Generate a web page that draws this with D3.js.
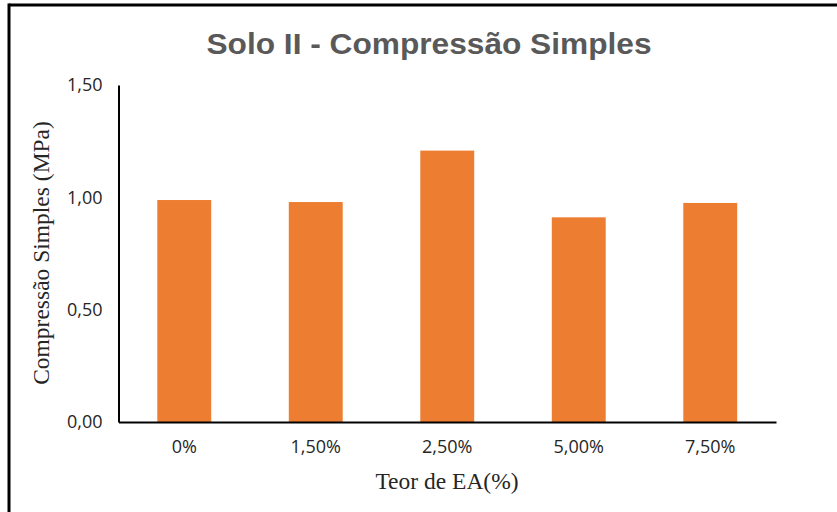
<!DOCTYPE html>
<html>
<head>
<meta charset="utf-8">
<script src="https://cdn.jsdelivr.net/npm/d3@7"></script>
<style>
  html, body { margin: 0; padding: 0; background: #fff; }
  svg { display: block; }
</style>
</head>
<body>
<svg id="chart" width="837" height="512"></svg>
<script>
// Unconfined compression strength by EA content
const categories = ["0%", "1,50%", "2,50%", "5,00%", "7,50%"];
const values = [0.988, 0.979, 1.208, 0.911, 0.975];
const yTicks = [0, 0.5, 1.0, 1.5];

const W = 837, H = 512;
const margin = { left: 118.5, right: 61, top: 85, bottom: 90 };
const svg = d3.select("#chart");

// frame edges (top and left)
svg.append("line").attr("x1", 9).attr("x2", W).attr("y1", 5).attr("y2", 5)
  .attr("stroke", "#000").attr("stroke-width", 3);
svg.append("line").attr("x1", 9).attr("x2", 9).attr("y1", 3.5).attr("y2", H)
  .attr("stroke", "#000").attr("stroke-width", 3);

const x = d3.scaleBand()
  .domain(categories)
  .range([margin.left, W - margin.right])
  .paddingInner(0.59)
  .paddingOuter(0.295);

const y = d3.scaleLinear()
  .domain([0, 1.5])
  .range([H - margin.bottom, margin.top]);

const fmt = d => d.toFixed(2).replace(".", ",");

// bars
svg.append("g").selectAll("rect")
  .data(values)
  .join("rect")
  .attr("x", (d, i) => x(categories[i]))
  .attr("width", x.bandwidth())
  .attr("y", d => y(d))
  .attr("height", d => y(0) - y(d))
  .attr("fill", "#ED7D31");

// y axis
const yAxis = svg.append("g")
  .attr("transform", `translate(${margin.left},0)`)
  .call(d3.axisLeft(y).tickValues(yTicks).tickFormat(fmt).tickSize(0).tickPadding(16));
yAxis.select(".domain").attr("stroke", "#000").attr("stroke-width", 2);
yAxis.selectAll("text")
  .attr("font-family", "'Open Sans', sans-serif")
  .attr("font-size", 18)
  .attr("fill", "#262626");

// x axis
const xAxis = svg.append("g")
  .attr("transform", `translate(0,${y(0)})`)
  .call(d3.axisBottom(x).tickSize(0).tickPadding(18));
xAxis.select(".domain").attr("stroke", "#000").attr("stroke-width", 2);
xAxis.selectAll("text")
  .attr("font-family", "'Open Sans', sans-serif")
  .attr("font-size", 18)
  .attr("fill", "#262626");

// title
svg.append("text")
  .attr("x", 429).attr("y", 54)
  .attr("text-anchor", "middle")
  .attr("font-family", "'Liberation Sans', Arial, sans-serif")
  .attr("font-weight", "bold")
  .attr("font-size", 29)
  .attr("textLength", 445)
  .attr("lengthAdjust", "spacingAndGlyphs")
  .attr("fill", "#595959")
  .text("Solo II - Compressão Simples");

// axis titles
svg.append("text")
  .attr("x", 447).attr("y", 489)
  .attr("text-anchor", "middle")
  .attr("font-family", "'Liberation Serif', 'Times New Roman', serif")
  .attr("font-size", 23.5)
  .attr("fill", "#262626")
  .text("Teor de EA(%)");

svg.append("text")
  .attr("transform", "translate(49,253) rotate(-90)")
  .attr("text-anchor", "middle")
  .attr("font-family", "'Liberation Serif', 'Times New Roman', serif")
  .attr("font-size", 23.5)
  .attr("fill", "#262626")
  .text("Compressão Simples (MPa)");
</script>
</body>
</html>
